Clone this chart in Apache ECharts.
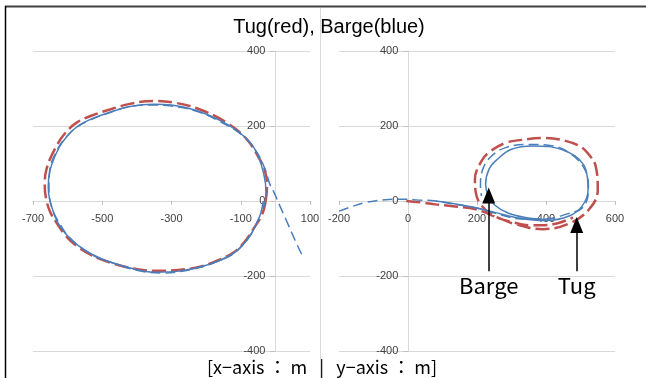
<!DOCTYPE html>
<html>
<head>
<meta charset="utf-8">
<script src="https://cdn.jsdelivr.net/npm/echarts@6/dist/echarts.min.js"></script>
<style>
  html, body { margin: 0; padding: 0; background: #fff; }
  #chart { width: 646px; height: 378px; }
</style>
</head>
<body>
<div id="chart"></div>
<script>
// left panel: turning circle near origin
var tugLeft = [
  [-28, 0], [-24, 40], [-30, 80], [-45, 111], [-83, 165], [-141, 209], [-218, 244],
  [-290, 262], [-353, 267], [-420, 259], [-478, 244], [-530, 228], [-574, 209],
  [-608, 180], [-632, 147], [-661, 85], [-666, 40], [-662, 5], [-650, -30],
  [-632, -58], [-606, -92], [-574, -120], [-530, -145], [-478, -164], [-410, -180],
  [-343, -186], [-280, -184], [-218, -175], [-170, -160], [-122, -138], [-90, -110],
  [-64, -75], [-38, -35], [-28, 0]
];
var bargeLeft = [
  [-35, -20], [-27, 20], [-33, 70], [-59, 138], [-100, 180], [-160, 215],
  [-230, 242], [-300, 256], [-350, 258], [-420, 252], [-480, 236], [-528, 220],
  [-570, 200], [-602, 172], [-625, 142], [-650, 85], [-656, 40], [-652, 5],
  [-630, -55], [-605, -88], [-575, -115], [-530, -142], [-480, -162], [-400, -183],
  [-343, -190], [-280, -187], [-218, -176], [-170, -162], [-125, -142], [-95, -118],
  [-70, -88], [-45, -40], [-35, 0]
];
var bargeLeftDash = [
  [76, -142], [62, -115], [38, -65], [13, -13], [-5, 25], [-16, 45], [-30, 85],
  [-55, 132], [-95, 175], [-160, 212], [-230, 240], [-300, 253], [-360, 256],
  [-430, 250], [-490, 232], [-535, 216], [-575, 196], [-605, 170], [-628, 140],
  [-652, 80], [-654, 30], [-645, -20], [-620, -65], [-595, -97], [-560, -125],
  [-520, -148], [-470, -165], [-400, -185], [-330, -192], [-260, -186],
  [-200, -172], [-160, -158], [-120, -140], [-75, -95], [-50, -50]
];

// right panel
var tugRight = [
  [-5, 0], [40, -4], [80, -9], [130, -14], [196, -22], [254, -42], [312, -62],
  [390, -75], [467, -60], [525, -22], [550, 30], [544, 93], [525, 123], [496, 147],
  [440, 164], [390, 168], [330, 163], [283, 155], [235, 130], [212, 105],
  [194, 58], [197, 20], [213, -12], [250, -40], [300, -56], [360, -65],
  [420, -62], [478, -44]
];
var bargeRight = [
  [80, 0], [138, -8], [196, -18], [254, -31], [312, -44], [399, -52], [467, -40],
  [505, -13], [522, 31], [515, 85], [495, 112], [467, 129], [410, 145], [361, 147],
  [300, 138], [260, 112], [235, 85], [225, 45], [232, 15], [250, -10],
  [290, -32], [340, -44], [400, -50]
];
var bargeRightDash = [
  [-200, -27], [-160, -14], [-123, -4], [-55, 4], [0, 5], [22, 3], [80, 0],
  [138, -9], [196, -18], [254, -33], [330, -48], [400, -48], [459, -35],
  [507, -17], [523, 30], [512, 85], [465, 130], [411, 148], [350, 151],
  [285, 143], [240, 118], [215, 80], [210, 40], [213, 13]
];

var leftX = { min: -700, max: 100, interval: 200 };
var rightX = { min: -200, max: 600, interval: 200 };
var yRange = { min: -400, max: 400, interval: 200 };

// arrows pointing at the right loop
var arrows = [
  { name: 'Barge', x: 234, from: -187, to: 15 },
  { name: 'Tug', x: 489, from: -187, to: -64 }
];

var red = '#c0504d';
var blue = '#4a7ebb';
var gridGray = '#d9d9d9';
var labelFont = 'Liberation Sans';

// axes sit on the zero lines (Excel style), done with offsets from the grid edge
var plotH = 300;
function xAxisOf(r, idx) {
  return {
    type: 'value', gridIndex: idx, min: r.min, max: r.max, interval: r.interval,
    position: 'bottom', offset: -plotH / 2,
    axisLine: { show: true, onZero: false, lineStyle: { color: gridGray } },
    axisTick: { show: true, length: 4, lineStyle: { color: '#bfbfbf' } },
    axisLabel: { color: '#404040', fontSize: 11, fontFamily: labelFont, margin: 12 },
    splitLine: { show: false }
  };
}
function yAxisOf(idx, off) {
  return {
    type: 'value', gridIndex: idx, min: yRange.min, max: yRange.max, interval: yRange.interval,
    position: 'left', offset: off,
    axisLine: { show: true, onZero: false, lineStyle: { color: gridGray } },
    axisTick: { show: true, length: 5, lineStyle: { color: '#bfbfbf' } },
    axisLabel: { color: '#404040', fontSize: 11, fontFamily: labelFont, margin: 10 },
    splitLine: { show: true, lineStyle: { color: gridGray, width: 1 } }
  };
}
function line(data, idx, color, width, dash) {
  return {
    type: 'line', xAxisIndex: idx, yAxisIndex: idx, data: data,
    showSymbol: false, smooth: 0.4, animation: false, silent: true,
    lineStyle: { color: color, width: width, type: dash || 'solid' }
  };
}

var chart = echarts.init(document.getElementById('chart'));
var arrowSeries = line([], 1, '#000', 1);
arrowSeries.markLine = {
  silent: true,
  animation: false,
  symbol: ['none', 'triangle'],
  symbolSize: [13, 16],
  lineStyle: { color: '#000', width: 1.5, type: 'solid' },
  label: {
    show: true, position: 'start', distance: 4, color: '#000',
    fontSize: 22, fontFamily: 'Noto Sans CJK KR',
    formatter: function (p) { return p.name; }
  },
  data: arrows.map(function (a) {
    return [{ coord: [a.x, a.from], name: a.name }, { coord: [a.x, a.to] }];
  })
};

chart.setOption({
  backgroundColor: '#fff',
  animation: false,
  grid: [
    { left: 33, right: 336, top: 51, bottom: 27 },
    { left: 339, right: 31, top: 51, bottom: 27 }
  ],
  xAxis: [xAxisOf(leftX, 0), xAxisOf(rightX, 1)],
  yAxis: [yAxisOf(0, -242.4), yAxisOf(1, -69.3)],
  series: [
    line(tugLeft, 0, red, 2.5, [14, 5]),
    line(bargeLeftDash, 0, blue, 1.5, [10, 5]),
    line(bargeLeft, 0, blue, 1.5),
    line(tugRight, 1, red, 2.5, [14, 5]),
    line(bargeRightDash, 1, blue, 1.5, [10, 5]),
    line(bargeRight, 1, blue, 1.5),
    arrowSeries
  ],
  graphic: [
    { type: 'line', shape: { x1: 5, y1: 6.5, x2: 646, y2: 6.5 }, style: { stroke: '#404040', lineWidth: 2 }, silent: true },
    { type: 'line', shape: { x1: 5.5, y1: 6, x2: 5.5, y2: 378 }, style: { stroke: '#000', lineWidth: 1.5 }, silent: true },
    { type: 'line', shape: { x1: 320.5, y1: 8, x2: 320.5, y2: 378 }, style: { stroke: gridGray, lineWidth: 1 }, silent: true },
    {
      type: 'text', x: 329, y: 27, silent: true,
      style: { text: 'Tug(red), Barge(blue)', textAlign: 'center', textVerticalAlign: 'middle',
        font: '20px "Liberation Sans", Arial, sans-serif', fill: '#000' }
    },
    {
      type: 'text', x: 322, y: 367, silent: true,
      style: { text: '[x\u2212axis \uff1a m   |   y\u2212axis \uff1a m]', textAlign: 'center', textVerticalAlign: 'middle',
        font: '18px "Noto Sans CJK KR", sans-serif', fill: '#000' }
    }
  ]
});
</script>
</body>
</html>
